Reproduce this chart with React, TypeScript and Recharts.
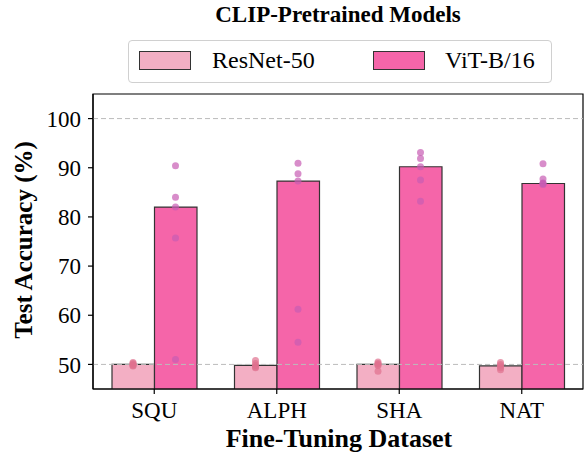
import React from "react";
import {
    ComposedChart,
    Bar,
    Scatter,
    XAxis,
    YAxis,
    ReferenceLine,
    ReferenceArea,
    Label,
} from "recharts";

const categories = ["SQU", "ALPH", "SHA", "NAT"];
const resnetMedian = [50.0, 49.8, 50.0, 49.7];
const vitMedian = [82.0, 87.3, 90.2, 86.8];
// individual runs (dots)
const resnetRuns = [
    [50.4, 50.2, 50.0, 49.8, 49.7],
    [50.8, 50.2, 49.8, 49.5, 49.3],
    [50.5, 50.2, 50.0, 49.8, 48.6],
    [50.4, 50.0, 49.7, 49.3, 48.9],
];
const vitRuns = [
    [90.4, 84.0, 82.0, 75.7, 51.0],
    [90.9, 88.8, 87.3, 61.2, 54.5],
    [93.1, 91.9, 90.2, 87.5, 83.2],
    [90.8, 87.7, 86.8, 86.6, 86.9],
];
const yTicks = [50, 60, 70, 80, 90, 100];

const RESNET = "#f3afc4";
const VIT = "#f565a9";
const FONT = "'Liberation Serif', 'Times New Roman', serif";
const BAR_W = 42.5;

const data = categories.map((name, i) => {
    const row: Record<string, number | string> = {
        name,
        resnet: resnetMedian[i],
        vit: vitMedian[i],
    };
    resnetRuns[i].forEach((v, k) => (row["r" + k] = v));
    vitRuns[i].forEach((v, k) => (row["v" + k] = v));
    return row;
});

const dot = (dx: number, color: string) => (props: any) => {
    const { cx, cy } = props;
    if (cx == null || cy == null) return <g />;
    return <circle cx={cx + dx} cy={cy} r={3.5} fill={color} fillOpacity={0.7} />;
};

export default function App() {
    return (
        <div style={{ position: "absolute", left: 0, top: 0, width: 587, height: 453, fontFamily: FONT, background: "#fff" }}>
            <div
                style={{
                    position: "absolute",
                    left: 0,
                    width: 676,
                    top: 2,
                    textAlign: "center",
                    fontWeight: "bold",
                    fontSize: 23,
                    lineHeight: "26px",
                }}
            >
                CLIP-Pretrained Models
            </div>
            <div
                style={{
                    position: "absolute",
                    left: 128,
                    top: 40,
                    width: 422,
                    height: 41,
                    border: "1px solid #d0d0d0",
                    borderRadius: 4,
                    fontSize: 24,
                }}
            >
                <div style={{ position: "absolute", left: 10, top: 10, width: 50, height: 17, background: RESNET, border: "1px solid #333" }} />
                <div style={{ position: "absolute", left: 83, top: 5, lineHeight: "28px" }}>ResNet-50</div>
                <div style={{ position: "absolute", left: 244, top: 10, width: 50, height: 17, background: VIT, border: "1px solid #333" }} />
                <div style={{ position: "absolute", left: 316, top: 5, lineHeight: "28px" }}>ViT-B/16</div>
            </div>
            <ComposedChart
                width={587}
                height={453}
                data={data}
                margin={{ top: 94, right: 4, bottom: 0, left: 0 }}
                barGap={0}
                style={{ position: "absolute", left: 0, top: 0 }}
            >
                <XAxis
                    dataKey="name"
                    height={64}
                    stroke="#000"
                    strokeWidth={1.2}
                    tickSize={5}
                    tickMargin={8}
                    tick={{ fill: "#000", fontSize: 23, fontFamily: FONT }}
                >
                    <Label
                        content={() => (
                            <text x={339} y={447} textAnchor="middle" fontSize={26} fontWeight="bold" fontFamily={FONT} fill="#000">
                                Fine-Tuning Dataset
                            </text>
                        )}
                    />
                </XAxis>
                <YAxis
                    domain={[45, 105]}
                    ticks={yTicks}
                    allowDataOverflow
                    width={93}
                    stroke="#000"
                    strokeWidth={1.2}
                    tickSize={5}
                    tickMargin={7}
                    tick={{ fill: "#000", fontSize: 23, fontFamily: FONT }}
                >
                    <Label
                        content={() => (
                            <text
                                x={23}
                                y={240}
                                transform="rotate(-90 23 240)"
                                textAnchor="middle"
                                dominantBaseline="central"
                                fontSize={25}
                                fontWeight="bold"
                                fontFamily={FONT}
                                fill="#000"
                            >
                                Test Accuracy (%)
                            </text>
                        )}
                    />
                </YAxis>
                <ReferenceLine y={100} stroke="#bbb" strokeDasharray="5 3" />
                <ReferenceLine y={50} stroke="#bbb" strokeDasharray="5 3" />
                <Bar dataKey="resnet" fill={RESNET} stroke="#333" strokeWidth={1.2} barSize={BAR_W} isAnimationActive={false} />
                <Bar dataKey="vit" fill={VIT} stroke="#333" strokeWidth={1.2} barSize={BAR_W} isAnimationActive={false} />
                {[0, 1, 2, 3, 4].map((k) => (
                    <Scatter key={"r" + k} dataKey={"r" + k} shape={dot(-BAR_W / 2, "#e0708e")} isAnimationActive={false} />
                ))}
                {[0, 1, 2, 3, 4].map((k) => (
                    <Scatter key={"v" + k} dataKey={"v" + k} shape={dot(BAR_W / 2, "#c85cb4")} isAnimationActive={false} />
                ))}
                <ReferenceArea y1={45} y2={105} fill="none" fillOpacity={0} stroke="#000" strokeWidth={1.2} strokeOpacity={1} ifOverflow="visible" />
            </ComposedChart>
        </div>
    );
}
